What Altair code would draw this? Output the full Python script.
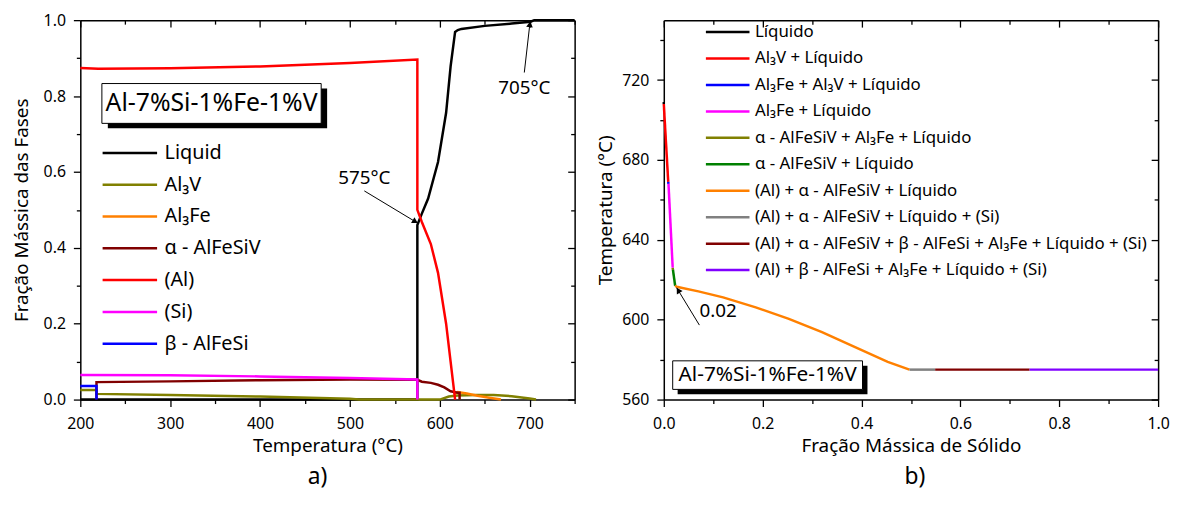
import math
import altair as alt
import pandas as pd

FONT = "Noto Sans"

# ---------------- Panel a) : phase mass fraction vs temperature ----------------
names_a = ["Liquid", "Al₃V", "Al₃Fe", "α - AlFeSiV", "(Al)", "(Si)", "β - AlFeSi"]
colors_a = ["#000000", "#808000", "#FF8000", "#800000", "#FF0000", "#FF00FF", "#0000FF"]

liq_T = [200, 575, 575, 580, 587, 598, 607, 612, 617, 620, 624, 650, 680, 701, 705, 750]
liq_f = [0, 0, 0.46, 0.49, 0.53, 0.626, 0.756, 0.878, 0.969, 0.974, 0.977, 0.985, 0.991, 0.996, 1.0, 1.0]

al3v_T = [200, 218, 218, 300, 400, 500, 510, 600, 610, 620, 640, 660, 680, 700, 707]
al3v_f = [0.025, 0.025, 0.015, 0.012, 0.008, 0.002, 0, 0, 0.008, 0.011, 0.012, 0.012, 0.009, 0.003, 0]

al3fe_T = [617, 620, 630, 642, 655, 668]
al3fe_f = [0.015, 0.02, 0.016, 0.01, 0.005, 0]

alpha_T = [218, 218, 300, 400, 500, 575, 580, 590, 598, 605, 612, 620, 622, 622]
alpha_f = [0, 0.046, 0.048, 0.051, 0.053, 0.052, 0.047, 0.044, 0.039, 0.032, 0.022, 0.018, 0.018, 0]

al_T = [200, 220, 300, 400, 500, 575, 575, 580, 590, 598, 607, 612, 615, 617]
al_f = [0.874, 0.872, 0.873, 0.878, 0.887, 0.896, 0.5, 0.468, 0.41, 0.334, 0.2, 0.1, 0.04, 0]

si_T = [200, 300, 400, 500, 575, 575]
si_f = [0.065, 0.064, 0.061, 0.057, 0.053, 0]

beta_T = [200, 218, 218]
beta_f = [0.036, 0.036, 0]

series_a = [(liq_T, liq_f), (al3v_T, al3v_f), (al3fe_T, al3fe_f), (alpha_T, alpha_f),
            (al_T, al_f), (si_T, si_f), (beta_T, beta_f)]

# annotations a)
ann_a_text = ["575°C", "705°C"]
ann_a_text_T = [516, 694]
ann_a_text_f = [0.585, 0.822]
ann_a_tail_T = [516, 694]
ann_a_tail_f = [0.55, 0.862]
ann_a_head_T = [575.5, 700.5]
ann_a_head_f = [0.465, 0.997]
box_a_label = "Al-7%Si-1%Fe-1%V"
box_a_T = [224, 468]
box_a_f = [0.728, 0.833]

# ---------------- Panel b) : temperature vs solid fraction ----------------
names_b = [
    "Líquido",
    "Al₃V + Líquido",
    "Al₃Fe + Al₃V + Líquido",
    "Al₃Fe + Líquido",
    "α - AlFeSiV + Al₃Fe + Líquido",
    "α - AlFeSiV + Líquido",
    "(Al) + α - AlFeSiV + Líquido",
    "(Al) + α - AlFeSiV + Líquido + (Si)",
    "(Al) + α - AlFeSiV + β - AlFeSi + Al₃Fe + Líquido + (Si)",
    "(Al) + β - AlFeSi + Al₃Fe + Líquido + (Si)",
]
colors_b = ["#000000", "#FF0000", "#0000FF", "#FF00FF", "#808000", "#008000",
            "#FF8000", "#808080", "#800000", "#8000FF"]

b_fs = [
    [0, 0],
    [0, 0.009],
    [0.009, 0.0095],
    [0.0095, 0.018],
    [0.018, 0.0185],
    [0.0185, 0.023],
    [0.023, 0.026, 0.07, 0.12, 0.186, 0.253, 0.32, 0.387, 0.453, 0.497],
    [0.497, 0.549],
    [0.549, 0.74],
    [0.74, 1.0],
]
b_T = [
    [709, 708],
    [708, 669],
    [669, 668],
    [668, 626],
    [626, 625],
    [625, 617],
    [617, 616.5, 614.2, 611.2, 606.2, 600.4, 593.8, 586.3, 578.9, 575],
    [575, 575],
    [575, 575],
    [575, 575],
]

ann_b_text = ["0.02"]
ann_b_text_fs = [0.11]
ann_b_text_T = [604.5]
ann_b_tail_fs = [0.072]
ann_b_tail_T = [597.3]
ann_b_head_fs = [0.026]
ann_b_head_T = [616.0]
box_b_label = "Al-7%Si-1%Fe-1%V"
box_b_fs = [0.018, 0.402]
box_b_T = [565.1, 579.4]

W, H = 499, 383

# ---------------- build tables ----------------
rows = []
for s, (T, F) in enumerate(series_a):
    for i, (t, v) in enumerate(zip(T, F)):
        rows.append({"serie": names_a[s], "x": t, "y": v, "i": i})
df_a = pd.DataFrame(rows)

rows = []
for s in range(len(names_b)):
    for i, (fx, t) in enumerate(zip(b_fs[s], b_T[s])):
        rows.append({"serie": names_b[s], "x": fx, "y": t, "i": i})
df_b = pd.DataFrame(rows)


def arrow_tables(tail_x, tail_y, head_x, head_y, kx, ky):
    seg, heads = [], []
    for k in range(len(tail_x)):
        seg.append({"a": k, "x": tail_x[k], "y": tail_y[k], "o": 0})
        seg.append({"a": k, "x": head_x[k], "y": head_y[k], "o": 1})
        dxp = (head_x[k] - tail_x[k]) * kx
        dyp = -(head_y[k] - tail_y[k]) * ky
        L = math.hypot(dxp, dyp)
        ang = math.degrees(math.atan2(dxp, -dyp)) % 360
        back = 4.0
        hx = head_x[k] - dxp / L * back / kx
        hy = head_y[k] + dyp / L * back / ky
        heads.append({"x": hx, "y": hy, "ang": ang})
    return pd.DataFrame(seg), pd.DataFrame(heads)


def axes_pair(xmaj, xmin, ymaj, ymin, xfmt, yfmt, xtitle, ytitle, ytp):
    common = dict(grid=False, tickColor="black", tickWidth=1.3, domainColor="black",
                  domainWidth=1.5)
    bx = alt.Axis(orient="bottom", values=xmaj, format=xfmt, title=xtitle, tickSize=7,
                  labelFont=FONT, labelFontSize=16, labelColor="black", labelPadding=9,
                  labelFlush=False,
                  titleFont=FONT, titleFontSize=19, titleFontWeight="normal",
                  titleColor="black", titlePadding=5, **common)
    ly = alt.Axis(orient="left", values=ymaj, format=yfmt, title=ytitle, tickSize=7,
                  labelFont=FONT, labelFontSize=16, labelColor="black", labelPadding=8,
                  labelFlush=False,
                  titleFont=FONT, titleFontSize=19, titleFontWeight="normal",
                  titleColor="black", titlePadding=ytp, **common)
    bxm = alt.Axis(orient="bottom", values=xmin, tickSize=4, labels=False, domain=False,
                   title=None, **common)
    lym = alt.Axis(orient="left", values=ymin, tickSize=4, labels=False, domain=False,
                   title=None, **common)
    tx = alt.Axis(orient="top", values=xmaj, tickSize={"expr": "-7"}, labels=False,
                  title=None, **common)
    ry = alt.Axis(orient="right", values=ymaj, tickSize={"expr": "-7"}, labels=False,
                  title=None, **common)
    txm = alt.Axis(orient="top", values=xmin, tickSize={"expr": "-4"}, labels=False,
                   domain=False, title=None, **common)
    rym = alt.Axis(orient="right", values=ymin, tickSize={"expr": "-4"}, labels=False,
                   domain=False, title=None, **common)
    return [(bx, ly), (bxm, lym), (tx, ry), (txm, rym)]


def panel(df, names, colors, xs, ys, axes, legend, arrows, texts, box, box_label,
          box_fs, shadow, title, title_dx):
    layers = []
    for k, (ax, ay) in enumerate(axes):
        if k == 0:
            layers.append(
                alt.Chart(df).mark_line(strokeWidth=2.5).encode(
                    x=alt.X("x:Q", scale=xs, axis=ax),
                    y=alt.Y("y:Q", scale=ys, axis=ay),
                    color=alt.Color("serie:N", scale=alt.Scale(domain=names, range=colors),
                                    sort=names, legend=legend),
                    order="i:Q",
                )
            )
        else:
            layers.append(
                alt.Chart(df).mark_point(opacity=0, size=1).encode(
                    x=alt.X("x:Q", scale=xs, axis=ax),
                    y=alt.Y("y:Q", scale=ys, axis=ay),
                )
            )
    seg, heads = arrows
    layers.append(alt.Chart(seg).mark_line(color="black", strokeWidth=1).encode(
        x=alt.X("x:Q", scale=xs, axis=None), y=alt.Y("y:Q", scale=ys, axis=None),
        detail="a:N", order="o:Q"))
    layers.append(alt.Chart(heads).mark_point(shape="triangle", filled=True, size=45,
                                              color="black", opacity=1).encode(
        x=alt.X("x:Q", scale=xs, axis=None), y=alt.Y("y:Q", scale=ys, axis=None),
        angle=alt.Angle("ang:Q", scale=None)))
    layers.append(alt.Chart(texts).mark_text(font=FONT, fontSize=19, color="black").encode(
        x=alt.X("x:Q", scale=xs, axis=None), y=alt.Y("y:Q", scale=ys, axis=None),
        text="t:N"))
    layers.append(alt.Chart(box).mark_rect(fill="black", xOffset=shadow[0], x2Offset=shadow[0],
                                          yOffset=shadow[1], y2Offset=shadow[1]).encode(
        x=alt.X("x1:Q", scale=xs, axis=None), x2="x2:Q",
        y=alt.Y("y1:Q", scale=ys, axis=None), y2="y2:Q"))
    layers.append(alt.Chart(box).mark_rect(fill="white", stroke="black", strokeWidth=1).encode(
        x=alt.X("x1:Q", scale=xs, axis=None), x2="x2:Q",
        y=alt.Y("y1:Q", scale=ys, axis=None), y2="y2:Q"))
    layers.append(alt.Chart(box).mark_text(font=FONT, fontSize=box_fs, color="black").encode(
        x=alt.X("xc:Q", scale=xs, axis=None), y=alt.Y("yc:Q", scale=ys, axis=None),
        text="t:N"))
    return alt.layer(*layers).resolve_axis(x="independent", y="independent").properties(
        width=W, height=H,
        title=alt.TitleParams(title, orient="bottom", fontSize=23, font=FONT,
                              fontWeight="normal", color="black", offset=11, dx=title_dx),
    )


# panel a
xs_a = alt.Scale(domain=[200, 750], nice=False, zero=False)
ys_a = alt.Scale(domain=[0, 1], nice=False)
axes_a = axes_pair([200, 300, 400, 500, 600, 700], [250, 350, 450, 550, 650, 750],
                   [0, 0.2, 0.4, 0.6, 0.8, 1.0], [0.1, 0.3, 0.5, 0.7, 0.9],
                   "d", ".1f", "Temperatura (°C)", "Fração Mássica das Fases", 12)
legend_a = alt.Legend(title=None, orient="none", legendX=21, legendY=124,
                      symbolType="stroke", symbolSize=3025, symbolStrokeWidth=2.5,
                      labelFont=FONT, labelFontSize=20, labelColor="black",
                      clipHeight=20, rowPadding=12.1, labelOffset=6, padding=0, labelLimit=0)
arrows_a = arrow_tables(ann_a_tail_T, ann_a_tail_f, ann_a_head_T, ann_a_head_f,
                        W / 550.0, H / 1.0)
texts_a = pd.DataFrame({"x": ann_a_text_T, "y": ann_a_text_f, "t": ann_a_text})
box_a = pd.DataFrame({"x1": [box_a_T[0]], "x2": [box_a_T[1]], "y1": [box_a_f[0]],
                      "y2": [box_a_f[1]], "xc": [sum(box_a_T) / 2], "yc": [sum(box_a_f) / 2],
                      "t": [box_a_label]})
chart_a = panel(df_a, names_a, colors_a, xs_a, ys_a, axes_a, legend_a, arrows_a, texts_a,
                box_a, box_a_label, 25, (6, 5), "a)", -10)

# panel b
xs_b = alt.Scale(domain=[0, 1], nice=False)
ys_b = alt.Scale(domain=[560, 750], nice=False, zero=False)
axes_b = axes_pair([0, 0.2, 0.4, 0.6, 0.8, 1.0], [0.1, 0.3, 0.5, 0.7, 0.9],
                   [560, 600, 640, 680, 720], [580, 620, 660, 700, 740],
                   ".1f", "d", "Fração Mássica de Sólido", "Temperatura (°C)", 6)
legend_b = alt.Legend(title=None, orient="none", legendX=41, legendY=3.5,
                      symbolType="stroke", symbolSize=1936, symbolStrokeWidth=2.5,
                      labelFont=FONT, labelFontSize=17, labelColor="black",
                      clipHeight=17, rowPadding=8.7, labelOffset=4, padding=0, labelLimit=0)
arrows_b = arrow_tables(ann_b_tail_fs, ann_b_tail_T, ann_b_head_fs, ann_b_head_T,
                        W / 1.0, H / 190.0)
texts_b = pd.DataFrame({"x": ann_b_text_fs, "y": ann_b_text_T, "t": ann_b_text})
box_b = pd.DataFrame({"x1": [box_b_fs[0]], "x2": [box_b_fs[1]], "y1": [box_b_T[0]],
                      "y2": [box_b_T[1]], "xc": [sum(box_b_fs) / 2], "yc": [sum(box_b_T) / 2],
                      "t": [box_b_label]})
chart_b = panel(df_b, names_b, colors_b, xs_b, ys_b, axes_b, legend_b, arrows_b, texts_b,
                box_b, box_b_label, 21, (5, 5), "b)", 4)

chart = alt.hconcat(chart_a, chart_b, spacing=17).resolve_scale(
    color="independent", x="independent", y="independent"
).configure_view(stroke=None).properties(
    padding={"left": 4, "top": 2, "right": 0, "bottom": 0}
)

chart.save("out.html", embed_options={"renderer": "svg", "actions": False})
